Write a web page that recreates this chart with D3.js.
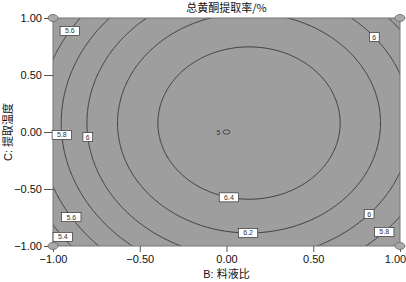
<!DOCTYPE html>
<html>
<head>
<meta charset="utf-8">
<script src="https://cdn.jsdelivr.net/npm/d3@7"></script>
<style>
  body { margin: 0; background: #fff; }
  svg { display: block; }
</style>
</head>
<body>
<svg id="chart" width="406" height="282"></svg>
<script>
// response surface: Y = b0 + bB*B + bC*C + bBB*B^2 + bCC*C^2 (estimated from the plot)
const model = [6.571, 0.174, 0.065, -0.67, -0.414];
const levels = [5.4, 5.6, 5.8, 6.0, 6.2, 6.4];
const xTicks = [-1, -0.5, 0, 0.5, 1];
const yTicks = [-1, -0.5, 0, 0.5, 1];
// contour labels: level, which axis is fixed, fixed value, which root
const labelLevels = [5.6, 6, 5.8, 6, 6.4, 6.2, 5.6, 5.4, 6, 5.8];
const labelAxis  = ["C", "C", "C", "C", "B", "B", "C", "C", "C", "C"];
const labelAt    = [0.886, 0.833, -0.026, -0.044, 0.014, 0.124, -0.746, -0.92, -0.72, -0.877];
const labelRoot  = ["lo", "hi", "lo", "lo", "lo", "lo", "lo", "lo", "hi", "hi"];
const cornerPts = [[-1, 1], [1, 1], [-1, -1], [1, -1]];
const centerPt = [0, 0];
const centerCount = 5;

const svg = d3.select("#chart");
const margin = {top: 18, right: 6, bottom: 36, left: 53};
const width = 406, height = 282;

const x = d3.scaleLinear().domain([-1, 1]).range([margin.left, width - margin.right]);
const y = d3.scaleLinear().domain([-1, 1]).range([height - margin.bottom, margin.top]);

const f = (B, C) => model[0] + model[1] * B + model[2] * C + model[3] * B * B + model[4] * C * C;

// plot background
svg.append("defs").append("clipPath").attr("id", "clip")
  .append("rect")
  .attr("x", x(-1)).attr("y", y(1))
  .attr("width", x(1) - x(-1)).attr("height", y(-1) - y(1));

svg.append("rect")
  .attr("x", x(-1)).attr("y", y(1))
  .attr("width", x(1) - x(-1)).attr("height", y(-1) - y(1))
  .attr("fill", "#9e9e9e");

// grid a bit larger than the plot so that closing edges fall outside the clip
const lo = -1.1, hi = 1.1, n = 221;
const step = (hi - lo) / (n - 1);
const values = new Array(n * n);
for (let j = 0; j < n; j++) {
  for (let i = 0; i < n; i++) {
    values[j * n + i] = f(lo + i * step, hi - j * step);
  }
}
const contours = d3.contours().size([n, n]).thresholds(levels)(values);

const proj = d3.geoTransform({
  point: function(px, py) {
    this.stream.point(x(lo + (px - 0.5) * step), y(hi - (py - 0.5) * step));
  }
});
const path = d3.geoPath(proj);

svg.append("g").attr("clip-path", "url(#clip)")
  .selectAll("path")
  .data(contours)
  .join("path")
  .attr("d", path)
  .attr("fill", "none")
  .attr("stroke", "#333")
  .attr("stroke-width", 0.9);

// plot border
svg.append("rect")
  .attr("x", x(-1)).attr("y", y(1))
  .attr("width", x(1) - x(-1)).attr("height", y(-1) - y(1))
  .attr("fill", "none")
  .attr("stroke", "#777")
  .attr("stroke-width", 1);

// axes
const fmt = d3.format(".2f");
const xAxis = g => g
  .attr("transform", "translate(0," + y(-1) + ")")
  .call(d3.axisBottom(x).tickValues(xTicks).tickFormat(fmt).tickSize(6).tickPadding(3).tickSizeOuter(0));
const yAxis = g => g
  .attr("transform", "translate(" + x(-1) + ",0)")
  .call(d3.axisLeft(y).tickValues(yTicks).tickFormat(fmt).tickSize(9).tickPadding(2).tickSizeOuter(0));

const gx = svg.append("g").call(xAxis);
svg.append("g").call(yAxis);
svg.selectAll(".domain").remove();
svg.selectAll(".tick line").attr("stroke", "#555");
svg.selectAll(".tick text")
  .attr("font-family", "Liberation Sans, Arial, sans-serif")
  .attr("font-size", 11)
  .attr("fill", "#111");
// keep the last x label inside the frame
gx.selectAll(".tick text").filter(d => d === 1).attr("dx", -5);

// contour labels, placed where each contour crosses a fixed B or C
function solve(level, axis, v, root) {
  let a, b, c;
  if (axis === "C") {
    a = model[3]; b = model[1]; c = model[0] + model[2] * v + model[4] * v * v - level;
  } else {
    a = model[4]; b = model[2]; c = model[0] + model[1] * v + model[3] * v * v - level;
  }
  const d = Math.sqrt(Math.max(0, b * b - 4 * a * c));
  const r1 = (-b + d) / (2 * a), r2 = (-b - d) / (2 * a);
  const r = root === "lo" ? Math.min(r1, r2) : Math.max(r1, r2);
  return axis === "C" ? [r, v] : [v, r];
}

const labelData = labelLevels.map((l, i) => {
  const p = solve(l, labelAxis[i], labelAt[i], labelRoot[i]);
  return {text: d3.format("~g")(l), B: p[0], C: p[1]};
});

const lab = svg.append("g").selectAll("g").data(labelData).join("g")
  .attr("transform", d => "translate(" + x(d.B) + "," + y(d.C) + ")");
lab.append("rect")
  .attr("x", d => -(d.text.length * 2.4 + 2.5))
  .attr("y", -4.5)
  .attr("width", d => d.text.length * 4.8 + 5)
  .attr("height", 9)
  .attr("fill", "#fff")
  .attr("stroke", "#333")
  .attr("stroke-width", 0.7);
lab.append("text")
  .attr("text-anchor", "middle")
  .attr("dy", "2.5")
  .attr("font-family", "Liberation Sans, Arial, sans-serif")
  .attr("font-size", 7)
  .attr("fill", "#333")
  .text(d => d.text);

// design points
svg.append("g").selectAll("ellipse").data(cornerPts).join("ellipse")
  .attr("cx", d => x(d[0])).attr("cy", d => y(d[1]))
  .attr("rx", 5).attr("ry", 3.5)
  .attr("fill", "#aaa")
  .attr("stroke", "#666")
  .attr("stroke-width", 0.8);

svg.append("ellipse")
  .attr("cx", x(centerPt[0])).attr("cy", y(centerPt[1]))
  .attr("rx", 3.5).attr("ry", 2.2)
  .attr("fill", "none")
  .attr("stroke", "#333")
  .attr("stroke-width", 0.8);
svg.append("text")
  .attr("x", x(centerPt[0]) - 6).attr("y", y(centerPt[1]) + 2.5)
  .attr("text-anchor", "end")
  .attr("font-family", "Liberation Sans, Arial, sans-serif")
  .attr("font-size", 7)
  .attr("fill", "#333")
  .text(centerCount);

// titles
svg.append("text")
  .attr("x", (x(-1) + x(1)) / 2).attr("y", 12)
  .attr("text-anchor", "middle")
  .attr("font-family", "Noto Sans CJK SC, sans-serif")
  .attr("font-size", 11)
  .attr("fill", "#111")
  .text("总黄酮提取率/%");

svg.append("text")
  .attr("x", (x(-1) + x(1)) / 2).attr("y", 278)
  .attr("text-anchor", "middle")
  .attr("font-family", "Liberation Sans, Noto Sans CJK SC, sans-serif")
  .attr("font-size", 11)
  .attr("fill", "#111")
  .text("B: 料液比");

svg.append("text")
  .attr("transform", "translate(12," + y(0) + ") rotate(-90)")
  .attr("text-anchor", "middle")
  .attr("font-family", "Liberation Sans, Noto Sans CJK SC, sans-serif")
  .attr("font-size", 11)
  .attr("fill", "#111")
  .text("C: 提取温度");
</script>
</body>
</html>
